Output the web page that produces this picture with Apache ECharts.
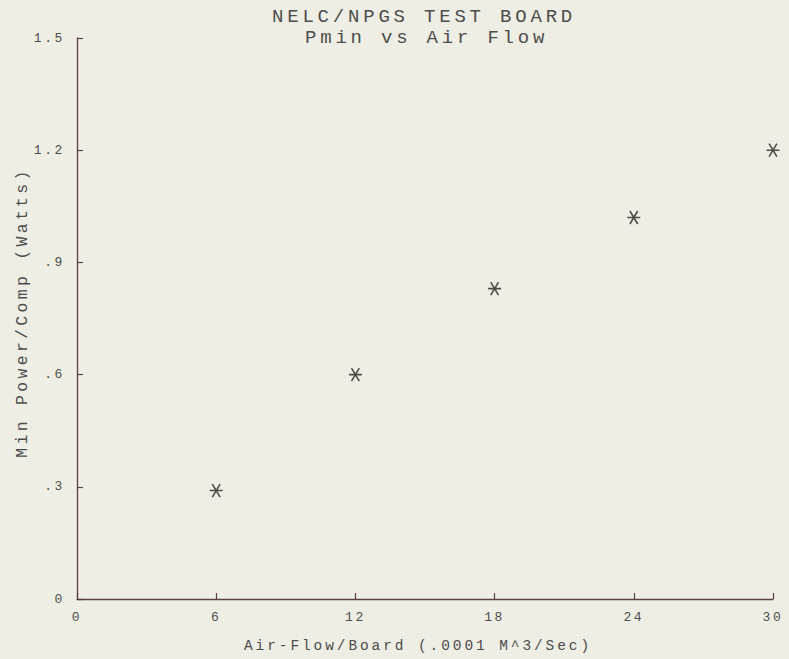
<!DOCTYPE html>
<html>
<head>
<meta charset="utf-8">
<script src="https://cdn.jsdelivr.net/npm/echarts@6/dist/echarts.min.js"></script>
<style>
  html, body { margin: 0; padding: 0; background: #eeeee4; }
  #c { width: 789px; height: 659px; }
  #c text { letter-spacing: 0.2em; }
</style>
</head>
<body>
<div id="c"></div>
<script>
// ---- data ----
const airFlow = [6, 12, 18, 24, 30];
const minPower = [0.29, 0.60, 0.83, 1.02, 1.20];
const yTicks = [0, 0.3, 0.6, 0.9, 1.2, 1.5];
const yTickLabels = ['0', '.3', '.6', '.9', '1.2', '1.5'];
const xTicks = [0, 6, 12, 18, 24, 30];
const xTickLabels = ['0', '6', '12', '18', '24', '30'];
const titleText = 'NELC/NPGS TEST BOARD';
const subtitleText = 'Pmin vs Air Flow';
const xName = 'Air-Flow/Board (.0001 M^3/Sec)';
const yName = 'Min Power/Comp (Watts)';

const FONT = "'Liberation Mono', 'DejaVu Sans Mono', monospace";
const TXT = '#4d4d4d';
const AXIS = '#5a4040';

function lookup(ticks, labels, v) {
  let best = 0;
  for (let i = 0; i < ticks.length; i++) {
    if (Math.abs(ticks[i] - v) < Math.abs(ticks[best] - v)) best = i;
  }
  return labels[best];
}

const chart = echarts.init(document.getElementById('c'), null, { renderer: 'svg' });
chart.setOption({
  backgroundColor: '#eeeee4',
  animation: false,
  title: [
    { text: titleText, left: 267, top: 2,
      textStyle: { fontFamily: FONT, fontSize: 19, fontWeight: 'normal', color: TXT } },
    { text: subtitleText, left: 300, top: 23,
      textStyle: { fontFamily: FONT, fontSize: 19, fontWeight: 'normal', color: TXT } }
  ],
  grid: { left: 77, right: 16, top: 38, bottom: 60, outerBoundsMode: 'none' },
  xAxis: {
    type: 'value', min: 0, max: 30, interval: 6,
    name: xName, nameLocation: 'middle', nameGap: 39,
    nameTextStyle: { fontFamily: FONT, fontSize: 14.5, color: TXT, padding: [0, 14, 0, 0] },
    axisLine: { show: true, lineStyle: { color: AXIS, width: 1.3 } },
    axisTick: { show: true, inside: true, length: 6, lineStyle: { color: AXIS, width: 1.2 } },
    splitLine: { show: false },
    axisLabel: { margin: 12, fontFamily: FONT, fontSize: 13, color: TXT,
      formatter: v => lookup(xTicks, xTickLabels, v) }
  },
  yAxis: {
    type: 'value', min: 0, max: 1.5, interval: 0.3,
    name: yName, nameLocation: 'middle', nameGap: 46, nameRotate: 90,
    nameTextStyle: { fontFamily: FONT, fontSize: 16.5, color: TXT, padding: [0, 0, 0, 12] },
    axisLine: { show: true, lineStyle: { color: AXIS, width: 1.3 } },
    axisTick: { show: true, inside: true, length: 6, lineStyle: { color: AXIS, width: 1.2 } },
    splitLine: { show: false },
    axisLabel: { margin: 12, fontFamily: FONT, fontSize: 13, color: TXT,
      formatter: v => lookup(yTicks, yTickLabels, v) }
  },
  series: [{
    type: 'scatter',
    data: airFlow.map((x, i) => [x, minPower[i]]),
    symbol: 'path://M0 10 L20 10 M4 1 L16 19 M16 1 L4 19',
    symbolSize: [13, 13],
    itemStyle: { color: 'rgba(0,0,0,0)', borderColor: '#2a2020', borderWidth: 1.6 }
  }]
});
</script>
</body>
</html>
